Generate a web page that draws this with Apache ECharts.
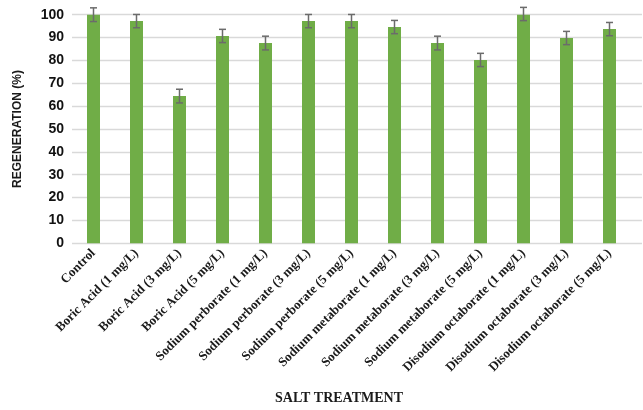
<!DOCTYPE html>
<html>
<head>
<meta charset="utf-8">
<script src="https://cdn.jsdelivr.net/npm/echarts@6/dist/echarts.min.js"></script>
<style>
  html, body { margin: 0; padding: 0; background: #ffffff; }
  #chart { width: 643px; height: 410px; }
</style>
</head>
<body>
<div id="chart"></div>
<script>
// Salt treatments on the x axis
const categories = [
  'Control',
  'Boric Acid (1 mg/L)',
  'Boric Acid (3 mg/L)',
  'Boric Acid (5 mg/L)',
  'Sodium perborate (1 mg/L)',
  'Sodium perborate (3 mg/L)',
  'Sodium perborate (5 mg/L)',
  'Sodium metaborate (1 mg/L)',
  'Sodium metaborate (3 mg/L)',
  'Sodium metaborate (5 mg/L)',
  'Disodium octaborate (1 mg/L)',
  'Disodium octaborate (3 mg/L)',
  'Disodium octaborate (5 mg/L)'
];

// Mean regeneration (%) per treatment
const regeneration = [100, 97.2, 64.4, 90.7, 87.6, 97.2, 97.2, 94.6, 87.6, 80.2, 100.3, 89.8, 93.7];

// Error (+/-) for each mean
const errors = [3.0, 2.9, 3.0, 2.9, 3.0, 2.9, 2.9, 2.9, 3.0, 2.9, 2.9, 2.9, 2.9];

// Y-axis ticks
const yTicks = [0, 10, 20, 30, 40, 50, 60, 70, 80, 90, 100];

const chart = echarts.init(document.getElementById('chart'), null, { renderer: 'canvas' });

const errorData = categories.map((c, i) => [i, regeneration[i] - errors[i], regeneration[i] + errors[i]]);

const plotTop = 14.7;
const plotHeight = 228.6;

chart.setOption({
  animation: false,
  backgroundColor: '#ffffff',
  title: {
    text: 'SALT TREATMENT',
    left: 334,
    top: 386,
    textAlign: 'center',
    textStyle: {
      fontFamily: 'Liberation Serif',
      fontWeight: 'bold',
      fontSize: 14,
      color: '#1a1a1a'
    }
  },
  grid: [
    // gridline frame with value labels
    { left: 72, right: 1, top: plotTop, height: plotHeight },
    // bars and error bars
    { left: 72, width: 559, top: plotTop, height: plotHeight }
  ],
  xAxis: [
    { gridIndex: 0, type: 'value', min: 0, max: 1, show: false },
    {
      gridIndex: 1,
      type: 'category',
      data: categories,
      axisLine: { show: false },
      axisTick: { show: false },
      axisLabel: {
        interval: 0,
        rotate: 45,
        margin: 8,
        fontFamily: 'Liberation Serif',
        fontWeight: 'bold',
        fontSize: 13,
        color: '#1a1a1a'
      }
    }
  ],
  yAxis: [
    {
      gridIndex: 0,
      type: 'value',
      min: yTicks[0],
      max: yTicks[yTicks.length - 1],
      interval: 10,
      name: 'REGENERATION (%)',
      nameLocation: 'middle',
      nameGap: 48,
      nameRotate: 90,
      nameTextStyle: {
        fontFamily: 'Liberation Sans',
        fontWeight: 'bold',
        fontSize: 12,
        color: '#1a1a1a'
      },
      axisLine: { show: false },
      axisTick: { show: false },
      axisLabel: {
        margin: 8,
        fontFamily: 'Liberation Sans',
        fontWeight: 'bold',
        fontSize: 14,
        color: '#111111'
      },
      splitLine: { show: true, lineStyle: { color: '#d9d9d9', width: 1.3 } }
    },
    {
      gridIndex: 1,
      type: 'value',
      min: yTicks[0],
      max: yTicks[yTicks.length - 1],
      show: false
    }
  ],
  series: [
    {
      type: 'bar',
      xAxisIndex: 1,
      yAxisIndex: 1,
      data: regeneration,
      barWidth: 13,
      itemStyle: { color: '#70ad47' }
    },
    {
      type: 'custom',
      xAxisIndex: 1,
      yAxisIndex: 1,
      clip: false,
      z: 5,
      data: errorData,
      renderItem: function (params, api) {
        const x = api.value(0);
        const lo = api.coord([x, api.value(1)]);
        const hi = api.coord([x, api.value(2)]);
        const half = 3.5;
        const style = { stroke: '#6b6b6b', lineWidth: 1.5 };
        return {
          type: 'group',
          children: [
            { type: 'line', shape: { x1: lo[0], y1: lo[1], x2: hi[0], y2: hi[1] }, style: style },
            { type: 'line', shape: { x1: lo[0] - half, y1: lo[1], x2: lo[0] + half, y2: lo[1] }, style: style },
            { type: 'line', shape: { x1: hi[0] - half, y1: hi[1], x2: hi[0] + half, y2: hi[1] }, style: style }
          ]
        };
      }
    }
  ]
});
</script>
</body>
</html>
